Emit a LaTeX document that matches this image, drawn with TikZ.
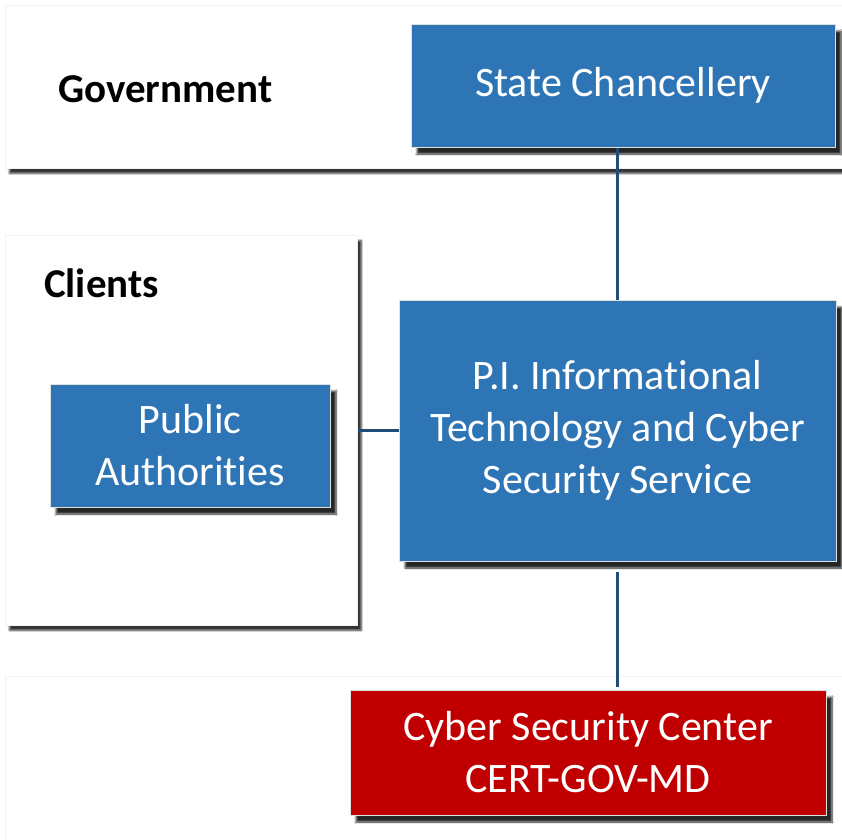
\documentclass[tikz,border=0pt]{standalone}
\usepackage{fontspec}
\setmainfont{Carlito}[Ligatures={NoCommon}]
\usetikzlibrary{shadows.blur}
\definecolor{boxblue}{HTML}{2E75B6}
\definecolor{boxred}{HTML}{C00000}
\definecolor{linkblue}{HTML}{1F4E79}
\tikzset{
  panel/.style={fill=white, draw=black!5, line width=0.8pt, blur shadow={shadow xshift=4pt, shadow yshift=-5pt, shadow blur steps=6, shadow opacity=80}},
  orgbox/.style={rectangle, fill=boxblue, draw=black!12, line width=1pt, text=white, align=center,
    font=\fontsize{42}{52}\selectfont, inner sep=0pt,
    blur shadow={shadow xshift=6pt, shadow yshift=-7pt, shadow blur steps=6, shadow opacity=85}},
  redbox/.style={orgbox, fill=boxred},
  paneltitle/.style={anchor=west, font=\fontsize{41}{48}\selectfont\bfseries, text=black, inner sep=0pt},
  link/.style={draw=linkblue, line width=3.5pt}
}
\begin{document}
\begin{tikzpicture}[x=1pt,y=-1pt]
\useasboundingbox (0,0) rectangle (842,839);
% panels
\node[panel, minimum width=845pt, minimum height=163pt, anchor=north west, inner sep=0pt] (gov) at (5,5) {};
\node[panel, minimum width=352pt, minimum height=390pt, anchor=north west, inner sep=0pt] (clients) at (5,235) {};
\node[panel, minimum width=845pt, minimum height=180pt, anchor=north west, inner sep=0pt] (bottom) at (5,676) {};
% titles
\node[paneltitle] (govt) at (58,89) {Government};
\node[paneltitle] (clt) at (44,283) {Clients};
% boxes
\node[orgbox, minimum width=424pt, minimum height=123pt] (chanc) at (623,85.5) {State Chancellery};
\node[orgbox, minimum width=280pt, minimum height=123pt] (pa) at (190,445.5) {Public\\Authorities};
\node[orgbox, minimum width=437pt, minimum height=261pt] (pi) at (617.5,430.5) {P.I. Informational\\Technology and Cyber\\Security Service};
\node[redbox, minimum width=476pt, minimum height=125pt] (csc) at (588,752.5) {Cyber Security Center\\CERT-GOV-MD};
% connectors
\draw[link] (pi.north) -- (pi.north |- chanc.south);
\draw[link] (pi.west) -- (pi.west -| clients.east);
\draw[link] ([yshift=-10pt]pi.south) -- ([yshift=3pt]pi.south |- csc.north);
\end{tikzpicture}
\end{document}
